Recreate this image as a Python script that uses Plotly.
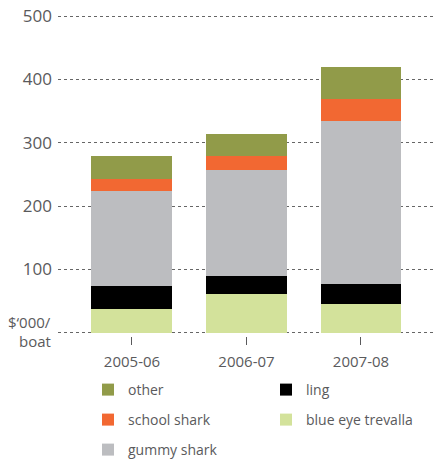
import plotly.graph_objects as go

years = ["2005-06", "2006-07", "2007-08"]
blue_eye_trevalla = [38, 62, 46]
ling = [36, 28, 31]
gummy_shark = [150, 167, 258]
school_shark = [19, 23, 34]
other = [37, 34, 50]

y_ticks = [0, 100, 200, 300, 400, 500]
y_ticktext = ["", "100", "200", "300", "400", "500"]
y_unit_lines = ["$‘000/", "boat"]

# (name, values, colour, legend row, rank within row)
series = [
    ("blue eye trevalla", blue_eye_trevalla, "#d3e29b", "legend2", 2),
    ("ling", ling, "#000000", "legend", 2),
    ("gummy shark", gummy_shark, "#bcbdc0", "legend3", 1),
    ("school shark", school_shark, "#f26832", "legend2", 1),
    ("other", other, "#919b49", "legend", 1),
]

text_color = "#5a5a5c"
font_family = "Open Sans, Noto Sans, sans-serif"

fig = go.Figure()
for name, vals, color, leg, rank in series:
    fig.add_trace(go.Bar(x=years, y=vals, name=name, marker=dict(color=color, line=dict(width=0)),
                         legend=leg, legendrank=rank))

FIG_H = 460
FIG_W = 433

def row_legend(py):
    return dict(orientation="h", xref="container", yref="container",
                x=88 / FIG_W, y=1 - (py + 1) / FIG_H, xanchor="left", yanchor="middle",
                entrywidth=133, entrywidthmode="pixels", traceorder="normal",
                font=dict(size=14, color=text_color, family=font_family), itemwidth=30,
                bgcolor="rgba(0,0,0,0)")

fig.update_layout(
    barmode="stack",
    bargap=0.293,
    width=FIG_W, height=FIG_H,
    margin=dict(l=58, r=0, t=13, b=124, autoexpand=False),
    plot_bgcolor="white", paper_bgcolor="white",
    font=dict(family=font_family, color=text_color, size=14),
    showlegend=True,
    legend=row_legend(389),
    legend2=row_legend(419),
    legend3=row_legend(449),
    xaxis=dict(type="category", range=[-0.646, 2.629], showline=False, ticks="outside", ticklen=8,
               tickcolor=text_color, tickfont=dict(size=15, color=text_color), showgrid=False,
               ticklabelstandoff=4),
    yaxis=dict(range=[-5, 505], tickvals=y_ticks, ticktext=y_ticktext,
               showgrid=True, gridcolor="#666666", griddash="dot", gridwidth=1,
               zeroline=False, showline=False, ticks="", ticklabelstandoff=5,
               tickfont=dict(size=17, color=text_color)),
    annotations=[
        dict(text=y_unit_lines[0], xref="paper", yref="y", x=0, y=0, xanchor="right",
             yanchor="middle", xshift=-5, yshift=11, showarrow=False,
             font=dict(size=15, color=text_color, family=font_family)),
        dict(text=y_unit_lines[1], xref="paper", yref="y", x=0, y=0, xanchor="right",
             yanchor="middle", xshift=-5, yshift=-8, showarrow=False,
             font=dict(size=15, color=text_color, family=font_family)),
    ],
)
fig.write_html("out.html", config={"displayModeBar": False},
               post_script="document.body.style.margin='0';document.body.style.overflow='hidden';")
